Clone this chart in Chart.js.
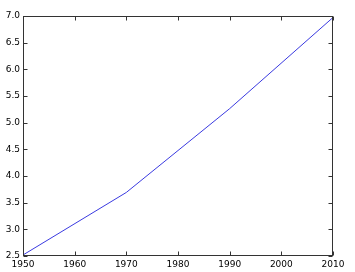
<!DOCTYPE html>
<html>
<head>
<meta charset="utf-8">
<script src="https://cdn.jsdelivr.net/npm/chart.js@4.4.0/dist/chart.umd.min.js"></script>
<style>
  html, body { margin: 0; padding: 0; background: #fff; }
  #wrap { width: 355px; height: 272px; }
</style>
</head>
<body>
<div id="wrap"><canvas id="chart" width="355" height="272"></canvas></div>
<script>
// data
const years = [1950, 1970, 1990, 2010];
const population = [2.519, 3.692, 5.263, 6.972];

const xTicks = [1950, 1960, 1970, 1980, 1990, 2000, 2010];
const yTicks = [2.5, 3.0, 3.5, 4.0, 4.5, 5.0, 5.5, 6.0, 6.5, 7.0];

// matplotlib-ish frame with inward ticks on every side
const framePlugin = {
  id: "frame",
  afterDraw(chart) {
    const ctx = chart.ctx;
    const a = chart.chartArea;
    const x = chart.scales.x, y = chart.scales.y;
    const len = 4;
    ctx.save();
    ctx.strokeStyle = "#333";
    ctx.lineWidth = 1;
    const l = Math.round(a.left) + 0.5, r = Math.round(a.right) - 0.5;
    const t = Math.round(a.top) + 0.5, b = Math.round(a.bottom) - 0.5;
    ctx.strokeRect(l, t, r - l, b - t);
    ctx.beginPath();
    xTicks.forEach(v => {
      const px = Math.round(x.getPixelForValue(v)) + 0.5;
      ctx.moveTo(px, b); ctx.lineTo(px, b - len);
      ctx.moveTo(px, t); ctx.lineTo(px, t + len);
    });
    yTicks.forEach(v => {
      const py = Math.round(y.getPixelForValue(v)) + 0.5;
      ctx.moveTo(l, py); ctx.lineTo(l + len, py);
      ctx.moveTo(r, py); ctx.lineTo(r - len, py);
    });
    ctx.stroke();
    ctx.restore();
  }
};

const ctx = document.getElementById("chart").getContext("2d");
new Chart(ctx, {
  type: "line",
  data: {
    datasets: [{
      data: years.map((yr, i) => ({ x: yr, y: population[i] })),
      borderColor: "#3a3ae0",
      borderWidth: 1,
      pointRadius: 0,
      fill: false,
      tension: 0
    }]
  },
  options: {
    responsive: false,
    animation: false,
    layout: { padding: { top: 16, right: 22, bottom: 0, left: 0 } },
    plugins: { legend: { display: false }, tooltip: { enabled: false } },
    scales: {
      x: {
        type: "linear",
        min: 1950,
        max: 2010,
        afterBuildTicks: s => { s.ticks = xTicks.map(v => ({ value: v })); },
        afterFit: s => { s.height = 16; },
        grid: { display: false, drawTicks: false },
        border: { display: false },
        ticks: {
          color: "#000",
          padding: 3,
          maxRotation: 0,
          font: { family: "DejaVu Sans", size: 9 },
          callback: v => String(v)
        }
      },
      y: {
        min: 2.5,
        max: 7.0,
        afterBuildTicks: s => { s.ticks = yTicks.map(v => ({ value: v })); },
        afterFit: s => { s.width = 23; },
        grid: { display: false, drawTicks: false },
        border: { display: false },
        ticks: {
          color: "#000",
          padding: 3,
          font: { family: "DejaVu Sans", size: 9 },
          callback: v => v.toFixed(1)
        }
      }
    }
  },
  plugins: [framePlugin]
});
</script>
</body>
</html>
